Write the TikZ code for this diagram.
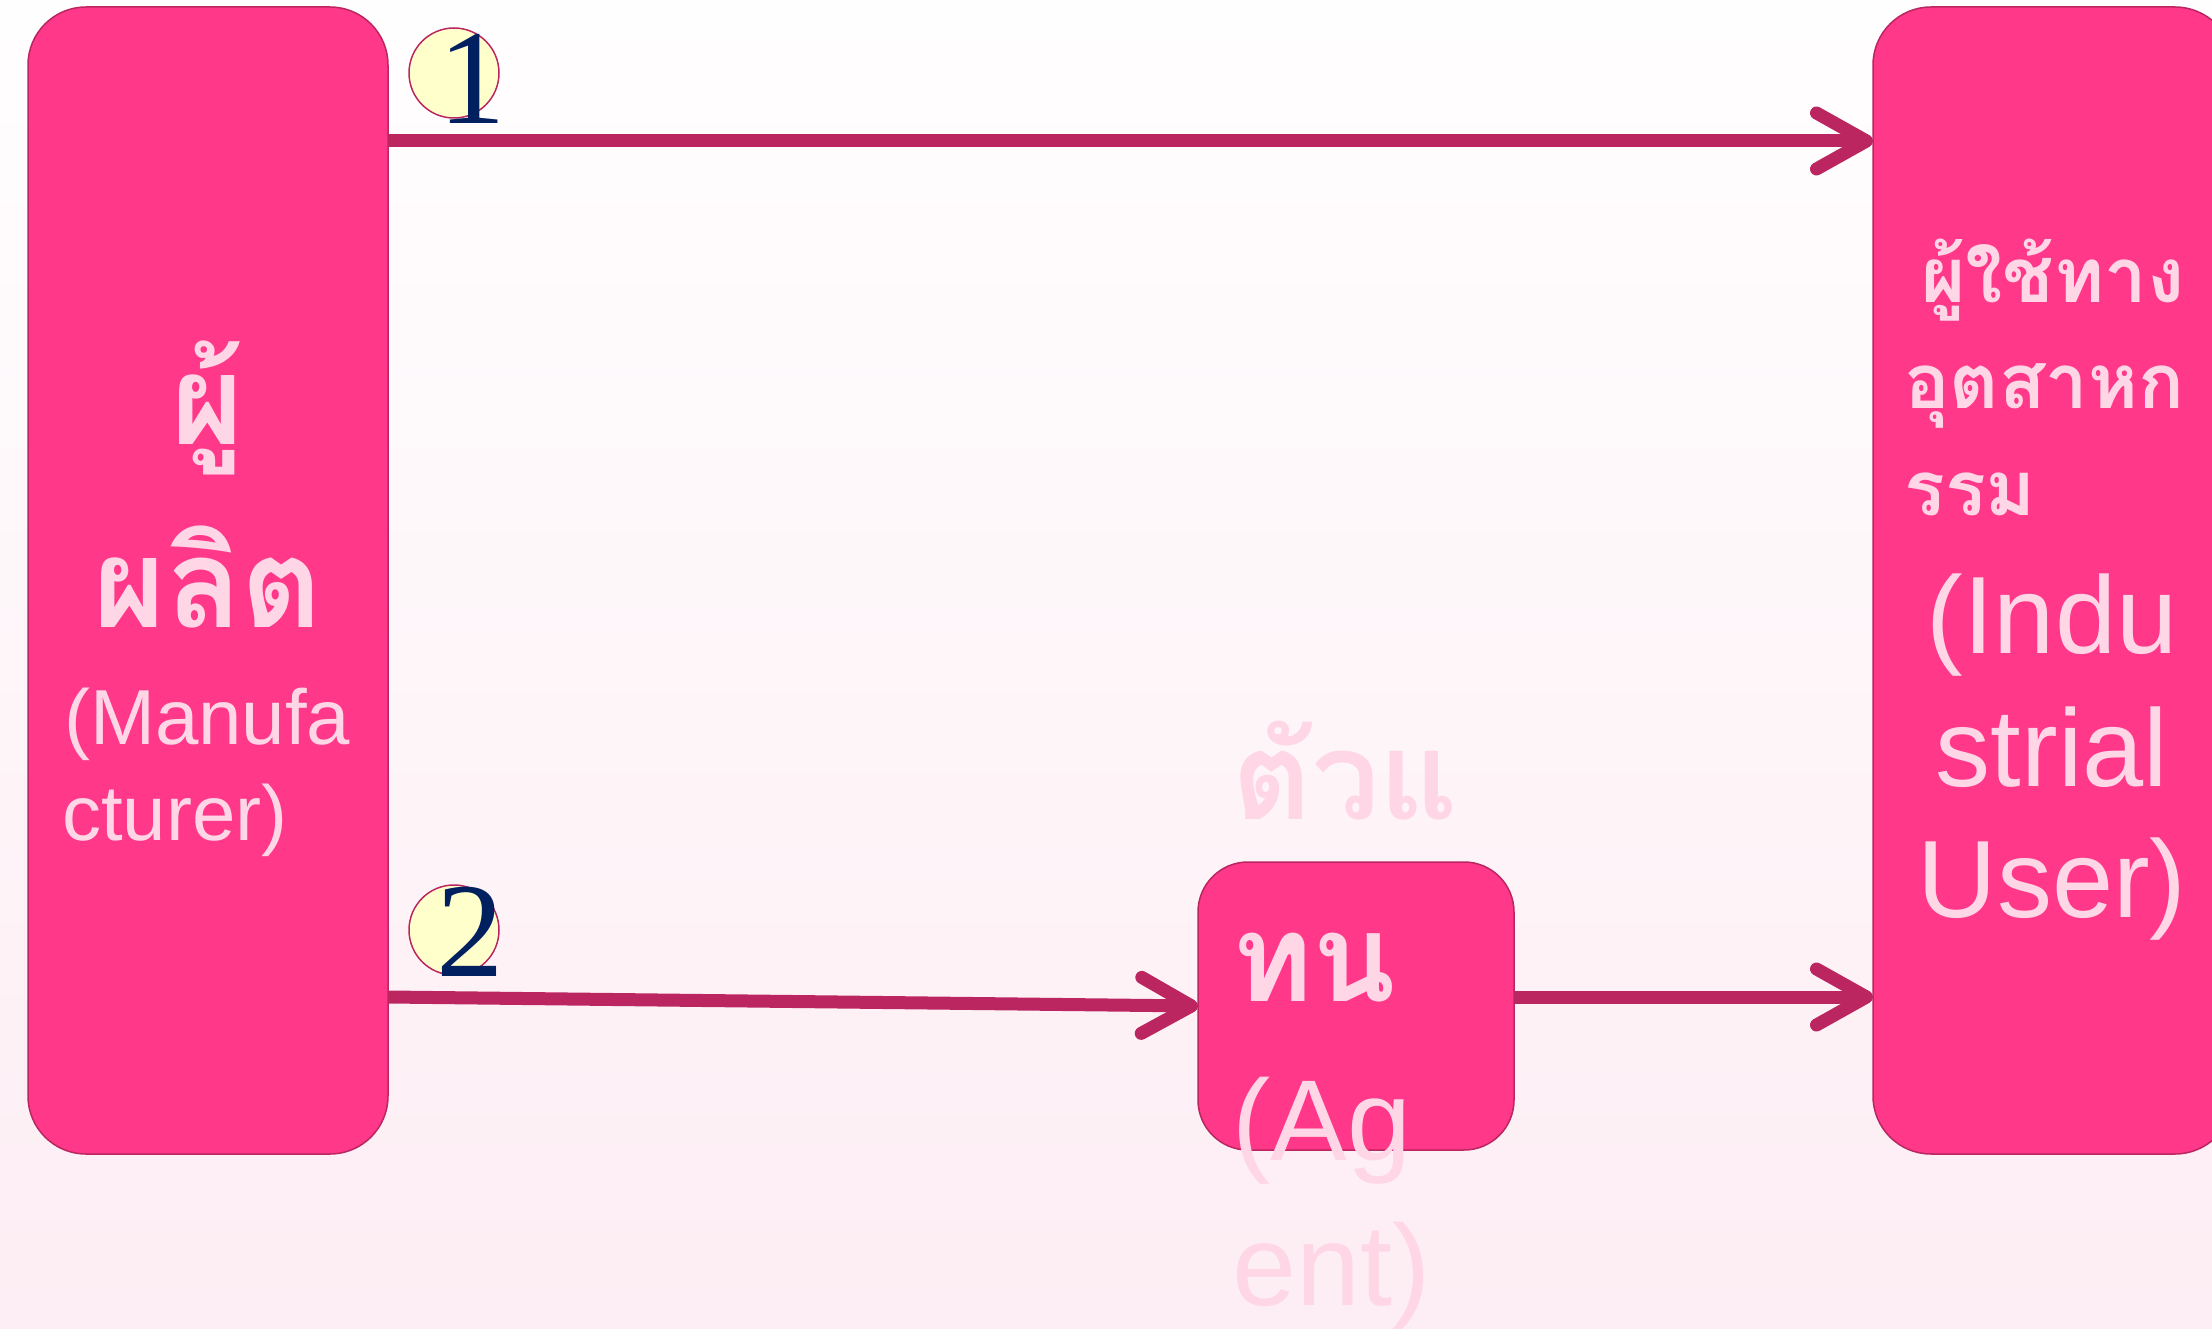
\documentclass[tikz,border=0pt]{standalone}
\usepackage{fontspec}
\setmainfont{Liberation Sans}
\newfontfamily\thaifont[Script=Thai]{Loma}
\newfontfamily\numfont{Liberation Serif}
\usetikzlibrary{arrows.meta,calc}
\definecolor{boxpink}{RGB}{255,56,138}
\definecolor{edgered}{RGB}{187,38,96}
\definecolor{txtpink}{RGB}{255,214,230}
\definecolor{bgpink}{RGB}{252,228,238}
\definecolor{circfill}{RGB}{255,255,204}
\definecolor{numnavy}{RGB}{0,32,96}
\pgfdeclareverticalshading{bgvert}{100bp}{color(0bp)=(bgpink); color(45bp)=(bgpink!40!white); color(78bp)=(white); color(100bp)=(white)}
\begin{document}
\begin{tikzpicture}[x=1pt,y=-1pt,
  box/.style={draw=edgered, line width=1.5pt, fill=boxpink, rounded corners=58pt, inner sep=0pt, outer sep=0pt},
  flow/.style={draw=edgered, line width=13pt, -{Straight Barb[length=50pt,width=56pt,line cap=round,line join=round]}},
  badge/.style={circle, draw=edgered, fill=circfill, line width=1.5pt, minimum size=90pt, inner sep=0pt},
  num/.style={inner sep=0pt, anchor=base, text=numnavy, font=\numfont\fontsize{135}{135}\selectfont},
  thr/.style={inner sep=0pt, text=txtpink, font=\thaifont\bfseries\fontsize{#1}{#1}\selectfont},
  lat/.style={inner sep=0pt, text=txtpink, font=\fontsize{#1}{#1}\selectfont}
]
\useasboundingbox (0,0) rectangle (2212,1329);
\clip (0,0) rectangle (2212,1329);
\shade[shading=bgvert] (0,0) rectangle (2212,1329);

% boxes
\node[box, minimum width=360pt, minimum height=1147pt] (L) at (208,580.5) {};
\node[box, minimum width=360pt, minimum height=1147pt] (R) at (2053,580.5) {};
\node[box, minimum width=316pt, minimum height=288pt, rounded corners=50pt] (A) at (1356,1006) {};

% connector ends
\coordinate (L1) at (388,141);
\coordinate (R1) at (1873,141);
\coordinate (L2) at (388,997);
\coordinate (A2) at (1198,1006);
\coordinate (A3) at (1514,997);
\coordinate (R3) at (1873,997);

\draw[flow] (L1) -- (R1);
\draw[flow] (L2) -- (A2);
\draw[flow] (A3) -- (R3);

% badges
\node[badge] (c1) at (454,73) {};
\node[num] (n1) at (472,124) {1};
\node[badge] (c2) at (454,930) {};
\node[num] (n2) at (470,976) {2};

% left box text
\node[thr=124, anchor=base] (t1) at (208,445) {ผู้};
\node[thr=124, anchor=base] (t2) at (208,627) {ผลิต};
\node[lat=78, anchor=base west] (t3) at (64,744) {(Manufa};
\node[lat=78, anchor=base west] (t4) at (62,840) {cturer)};

% right box text
\node[thr=76, anchor=base west] (r1) at (1921,303) {ผู้ใช้ทาง};
\node[thr=76, anchor=base west] (r2) at (1904,409) {อุตสาหก};
\node[thr=76, anchor=base west] (r3) at (1904,515) {รรม};
\node[lat=110, anchor=base] (r4) at (2052,653) {(Indu};
\node[lat=110, anchor=base] (r5) at (2052,786) {strial};
\node[lat=110, anchor=base] (r6) at (2052,917) {User)};

% agent text
\node[thr=122, anchor=base west] (a1) at (1232,819) {ตัวแ};
\node[thr=122, anchor=base west] (a2) at (1232,1001) {ทน};
\node[lat=115, anchor=base west] (a3) at (1232,1160) {(Ag};
\node[lat=115, anchor=base west] (a4) at (1232,1305) {ent)};
\end{tikzpicture}
\end{document}
